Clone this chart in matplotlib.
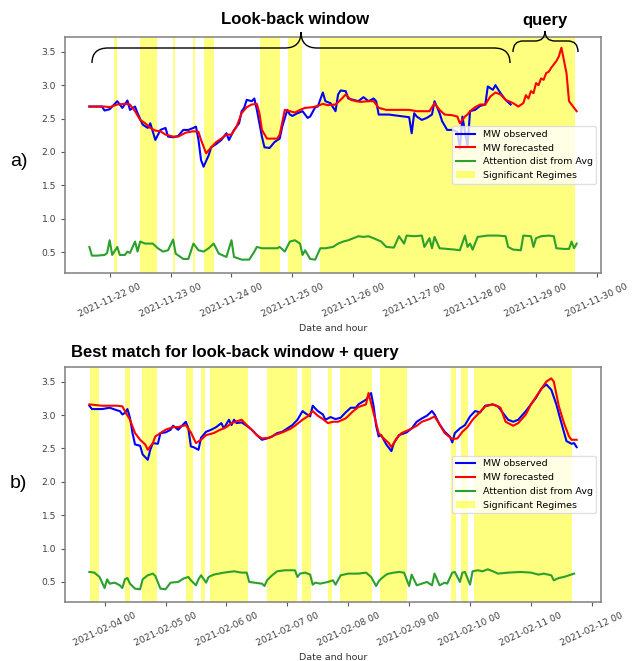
import numpy as np
import pandas as pd
import matplotlib
matplotlib.use("Agg")
import matplotlib.pyplot as plt
import matplotlib.dates as md
from matplotlib.path import Path
from matplotlib.patches import PathPatch

# ---- panel a) : look-back window + query (hours from series start) ----
start_a = pd.Timestamp('2021-11-21 16:00')

obs_a_h = [0, 5, 6, 8, 11, 13, 15, 16, 18, 19, 21, 23, 24, 26, 28, 30, 31, 33, 35, 37, 39, 41, 42, 43,
           44, 45, 47, 48, 50, 52, 54, 55, 57, 59, 60, 61, 62, 64, 65, 66, 68, 69, 71, 73, 75, 76, 78,
           79, 80, 82, 84, 86, 87, 89, 90, 92, 93, 95, 97, 98, 99, 101, 102, 104, 106, 108, 110, 112,
           113, 114, 118, 126, 127, 128, 129, 131, 133, 135, 136, 138, 139, 141, 143, 145, 146, 147,
           149, 150, 152, 154, 156, 157, 159, 160, 162, 164, 166]
obs_a_v = [2.68, 2.68, 2.62, 2.64, 2.76, 2.66, 2.77, 2.63, 2.68, 2.58, 2.41, 2.36, 2.43, 2.18, 2.33,
           2.36, 2.23, 2.22, 2.24, 2.33, 2.33, 2.36, 2.38, 2.18, 1.88, 1.78, 1.95, 2.07, 2.12, 2.18,
           2.28, 2.18, 2.33, 2.43, 2.61, 2.66, 2.78, 2.76, 2.80, 2.63, 2.23, 2.07, 2.06, 2.15, 2.20,
           2.38, 2.63, 2.56, 2.54, 2.58, 2.61, 2.51, 2.53, 2.67, 2.68, 2.89, 2.76, 2.73, 2.61, 2.86,
           2.92, 2.91, 2.80, 2.78, 2.76, 2.82, 2.76, 2.80, 2.76, 2.56, 2.56, 2.52, 2.28, 2.58, 2.53,
           2.48, 2.51, 2.56, 2.76, 2.58, 2.46, 2.33, 2.33, 2.30, 2.05, 2.53, 2.08, 2.61, 2.63, 2.69,
           2.71, 2.98, 2.93, 3.00, 2.88, 2.78, 2.71]

fc_a_h = [0, 6, 8, 11, 14, 16, 18, 20, 22, 24, 26, 28, 30, 33, 35, 38, 41, 43, 44, 46, 48, 50, 52,
          54, 56, 58, 60, 62, 64, 66, 67, 68, 70, 72, 74, 75, 77, 79, 81, 83, 85, 88, 90, 92, 94, 97,
          99, 101, 103, 105, 107, 110, 112, 114, 117, 126, 129, 134, 136, 138, 140, 143, 145, 146,
          148, 149, 150, 152, 154, 156, 158, 160, 162, 164, 167, 169, 171, 172, 173, 174, 175, 176,
          177, 178, 179, 180, 181, 182, 183, 184, 185, 186, 188, 189, 190, 192]
fc_a_v = [2.68, 2.68, 2.67, 2.71, 2.72, 2.71, 2.61, 2.48, 2.43, 2.36, 2.32, 2.31, 2.26, 2.23, 2.23,
          2.29, 2.31, 2.30, 2.18, 1.98, 2.07, 2.15, 2.20, 2.26, 2.26, 2.38, 2.58, 2.67, 2.71, 2.72,
          2.58, 2.33, 2.20, 2.20, 2.20, 2.26, 2.63, 2.61, 2.59, 2.63, 2.66, 2.67, 2.69, 2.72, 2.70,
          2.71, 2.78, 2.86, 2.78, 2.76, 2.75, 2.76, 2.76, 2.66, 2.63, 2.63, 2.61, 2.61, 2.73, 2.63,
          2.56, 2.55, 2.53, 2.43, 2.53, 2.56, 2.61, 2.67, 2.71, 2.71, 2.83, 2.89, 2.86, 2.78, 2.73,
          2.68, 2.73, 2.85, 2.80, 2.91, 2.88, 3.03, 3.00, 3.10, 3.08, 3.18, 3.20, 3.26, 3.31, 3.36,
          3.43, 3.56, 3.18, 2.76, 2.71, 2.61]

att_a_h = [0, 1, 3, 6, 7, 8, 9, 11, 12, 14, 15, 16, 18, 19, 20, 22, 25, 27, 29, 31, 33, 34, 37, 39,
           41, 43, 45, 47, 49, 51, 54, 56, 57, 60, 63, 65, 66, 68, 71, 74, 75, 77, 79, 81, 83, 84, 85,
           87, 89, 91, 93, 96, 98, 100, 102, 104, 106, 108, 110, 112, 115, 117, 120, 122, 124, 125,
           128, 131, 132, 134, 135, 136, 138, 141, 144, 146, 148, 149, 150, 151, 153, 157, 161, 164,
           165, 167, 170, 171, 174, 175, 176, 178, 181, 183, 184, 187, 189, 190, 191, 192]
att_a_v = [0.58, 0.45, 0.45, 0.46, 0.49, 0.68, 0.46, 0.58, 0.46, 0.46, 0.51, 0.49, 0.66, 0.51, 0.66,
           0.63, 0.63, 0.56, 0.51, 0.53, 0.69, 0.48, 0.40, 0.40, 0.63, 0.53, 0.51, 0.56, 0.63, 0.48,
           0.43, 0.68, 0.43, 0.39, 0.39, 0.51, 0.58, 0.56, 0.56, 0.56, 0.58, 0.51, 0.66, 0.68, 0.63,
           0.46, 0.53, 0.40, 0.39, 0.56, 0.56, 0.58, 0.63, 0.66, 0.68, 0.71, 0.74, 0.73, 0.74, 0.71,
           0.66, 0.58, 0.57, 0.74, 0.63, 0.75, 0.74, 0.75, 0.58, 0.71, 0.56, 0.73, 0.56, 0.55, 0.54,
           0.53, 0.75, 0.58, 0.63, 0.54, 0.73, 0.75, 0.75, 0.74, 0.58, 0.54, 0.53, 0.75, 0.74, 0.58,
           0.71, 0.74, 0.75, 0.74, 0.56, 0.55, 0.55, 0.66, 0.56, 0.63]

regimes_a = [(9.6, 10.9), (20.1, 26.6), (32.9, 33.9), (40.7, 41.8), (45.0, 49.0),
             (67.3, 75.1), (78.3, 83.8), (91.0, 191.5)]

# ---- panel b) : best match ----
start_b = pd.Timestamp('2021-02-03 18:00')

obs_b_h = [0, 1, 5, 8, 11, 12, 13, 14, 15, 16, 17, 18, 20, 21, 23, 24, 25, 27, 28, 30, 32, 33, 35,
           36, 38, 39, 40, 41, 43, 44, 46, 48, 50, 52, 53, 55, 56, 57, 58, 60, 62, 64, 66, 68, 70,
           72, 74, 76, 78, 80, 82, 84, 85, 87, 88, 90, 92, 93, 95, 97, 99, 101, 103, 105, 106, 109,
           111, 112, 113, 114, 115, 117, 119, 120, 122, 125, 127, 129, 131, 133, 135, 136, 138, 140,
           142, 143, 144, 146, 148, 150, 152, 154, 156, 159, 161, 163, 165, 167, 169, 172, 174, 176,
           178, 180, 182, 184, 186, 188, 190, 191, 192]
obs_b_v = [3.14, 3.09, 3.09, 3.11, 3.07, 3.06, 3.01, 3.03, 3.09, 2.96, 2.73, 2.56, 2.54, 2.41, 2.33,
           2.48, 2.58, 2.57, 2.73, 2.74, 2.78, 2.84, 2.78, 2.82, 2.90, 2.80, 2.53, 2.52, 2.48, 2.66,
           2.75, 2.78, 2.82, 2.88, 2.80, 2.93, 2.85, 2.93, 2.88, 2.89, 2.84, 2.78, 2.70, 2.63, 2.65,
           2.68, 2.73, 2.75, 2.80, 2.85, 2.93, 3.06, 3.03, 2.98, 3.14, 3.06, 3.01, 2.93, 2.97, 2.94,
           2.96, 3.04, 3.11, 3.11, 3.16, 3.23, 3.33, 3.13, 2.84, 2.68, 2.70, 2.56, 2.46, 2.58, 2.70,
           2.74, 2.80, 2.90, 2.95, 2.99, 3.06, 3.01, 2.86, 2.75, 2.68, 2.59, 2.73, 2.80, 2.85, 2.98,
           3.06, 3.04, 3.14, 3.16, 3.13, 3.03, 2.93, 2.90, 2.93, 3.06, 3.16, 3.26, 3.39, 3.46, 3.38,
           3.16, 2.88, 2.61, 2.57, 2.58, 2.52]

fc_b_h = [0, 5, 11, 13, 14, 16, 18, 20, 22, 23, 25, 26, 28, 30, 33, 35, 38, 40, 42, 44, 46, 49, 51,
          54, 56, 60, 62, 64, 66, 68, 71, 73, 76, 79, 81, 84, 86, 88, 90, 92, 94, 96, 98, 101, 104,
          106, 109, 110, 112, 114, 116, 118, 119, 121, 123, 126, 129, 131, 134, 136, 138, 140, 143,
          145, 147, 149, 151, 153, 156, 159, 162, 164, 167, 169, 172, 174, 177, 180, 182, 183, 185,
          187, 189, 190, 192]
fc_b_v = [3.16, 3.14, 3.14, 3.13, 3.06, 2.93, 2.73, 2.63, 2.56, 2.48, 2.58, 2.68, 2.73, 2.78, 2.82,
          2.82, 2.85, 2.74, 2.58, 2.63, 2.70, 2.73, 2.77, 2.82, 2.88, 2.93, 2.85, 2.78, 2.70, 2.65,
          2.66, 2.70, 2.74, 2.79, 2.84, 2.93, 2.98, 3.06, 2.99, 2.94, 2.88, 2.90, 2.90, 2.95, 3.06,
          3.12, 3.16, 3.33, 3.03, 2.73, 2.65, 2.58, 2.52, 2.65, 2.73, 2.78, 2.84, 2.90, 2.94, 2.98,
          2.86, 2.73, 2.64, 2.65, 2.75, 2.82, 2.93, 3.01, 3.13, 3.16, 3.11, 2.90, 2.84, 2.88, 3.01,
          3.16, 3.33, 3.50, 3.55, 3.50, 3.13, 2.88, 2.68, 2.63, 2.63]

att_b_h = [0, 2, 4, 6, 7, 8, 10, 12, 13, 14, 15, 16, 18, 20, 21, 23, 25, 26, 28, 30, 32, 35, 37, 39,
           40, 42, 43, 44, 46, 47, 49, 53, 57, 60, 62, 63, 65, 68, 69, 70, 72, 74, 77, 81, 82, 83, 85,
           87, 88, 89, 91, 94, 96, 97, 99, 102, 106, 109, 111, 113, 114, 115, 117, 118, 120, 122, 124,
           126, 127, 129, 131, 133, 135, 136, 138, 140, 141, 143, 144, 146, 147, 148, 150, 151, 153,
           155, 157, 159, 161, 165, 170, 174, 177, 179, 182, 183, 185, 187, 189, 191]
att_b_v = [0.65, 0.64, 0.575, 0.41, 0.54, 0.475, 0.49, 0.45, 0.41, 0.54, 0.56, 0.475, 0.40, 0.39,
           0.54, 0.60, 0.625, 0.59, 0.40, 0.39, 0.49, 0.50, 0.55, 0.575, 0.525, 0.45, 0.54, 0.60, 0.49,
           0.575, 0.61, 0.64, 0.66, 0.64, 0.64, 0.50, 0.49, 0.475, 0.44, 0.525, 0.60, 0.66, 0.675,
           0.675, 0.575, 0.625, 0.64, 0.61, 0.46, 0.49, 0.475, 0.50, 0.525, 0.46, 0.60, 0.625, 0.625,
           0.64, 0.575, 0.44, 0.51, 0.55, 0.61, 0.625, 0.64, 0.65, 0.64, 0.44, 0.61, 0.45, 0.475, 0.50,
           0.45, 0.625, 0.45, 0.49, 0.475, 0.64, 0.65, 0.50, 0.64, 0.65, 0.46, 0.66, 0.675, 0.66, 0.69,
           0.66, 0.625, 0.64, 0.65, 0.64, 0.61, 0.625, 0.60, 0.525, 0.56, 0.575, 0.60, 0.625]

regimes_b = [(0.1, 3.7), (13.9, 15.9), (20.8, 26.7), (37.9, 40.7), (43.8, 45.6), (47.7, 62.7),
             (70.0, 81.7), (83.6, 87.4), (93.9, 95.8), (98.8, 111.3), (114.6, 125.3),
             (142.4, 144.4), (146.6, 149.3), (151.6, 190.2)]

W, H = 632, 661


def to_dates(start, hours):
    return start + pd.to_timedelta(hours, unit='h')


def draw_panel(ax, start, obs_h, obs_v, fc_h, fc_v, att_h, att_v, regimes, ylim):
    ax.plot(to_dates(start, obs_h), obs_v, color='blue', lw=1.5, label='MW observed')
    ax.plot(to_dates(start, fc_h), fc_v, color='red', lw=1.5, label='MW forecasted')
    ax.plot(to_dates(start, att_h), att_v, color='#2ca02c', lw=1.5, label='Attention dist from Avg')
    for i, (a, b) in enumerate(regimes):
        ax.axvspan(start + pd.Timedelta(hours=a), start + pd.Timedelta(hours=b),
                   color='yellow', alpha=0.5, lw=0,
                   label='Significant Regimes' if i == 0 else None)
    ax.set_ylim(*ylim)
    ax.xaxis.set_major_locator(md.DayLocator())
    ax.xaxis.set_major_formatter(md.DateFormatter('%Y-%m-%d %H'))
    ax.tick_params(labelsize=6.6, labelcolor='0.25', color='0.35', length=3)
    for label in ax.xaxis.get_ticklabels():
        label.set_rotation(25)
        label.set_ha('center')
    for s in ax.spines.values():
        s.set_color('0.5')
        s.set_linewidth(1.1)
    ax.set_xlabel('Date and hour', fontsize=6.8, color='0.2')
    ax.legend(loc='center right', fontsize=6.8, framealpha=0.8, edgecolor='0.85')


def brace(fig, x0, x1, xm, y_line, y_end, y_tip, r):
    pts = [(x0, y_end), (x0, y_line), (x0 + r, y_line),
           (xm - r, y_line), (xm, y_line), (xm, y_tip),
           (xm, y_line), (xm + r, y_line),
           (x1 - r, y_line), (x1, y_line), (x1, y_end)]
    codes = [Path.MOVETO, Path.CURVE3, Path.CURVE3,
             Path.LINETO, Path.CURVE3, Path.CURVE3,
             Path.CURVE3, Path.CURVE3,
             Path.LINETO, Path.CURVE3, Path.CURVE3]
    verts = [(x / W, 1 - y / H) for x, y in pts]
    fig.add_artist(PathPatch(Path(verts, codes), transform=fig.transFigure,
                             fill=False, ec='black', lw=1.0))


fig = plt.figure(figsize=(W / 100, H / 100), dpi=100)
ax1 = fig.add_axes([65 / W, 1 - 273 / H, 536 / W, 236 / H])
ax2 = fig.add_axes([65 / W, 1 - 602 / H, 536 / W, 235 / H])

draw_panel(ax1, start_a, obs_a_h, obs_a_v, fc_a_h, fc_a_v, att_a_h, att_a_v, regimes_a, (0.19, 3.72))
draw_panel(ax2, start_b, obs_b_h, obs_b_v, fc_b_h, fc_b_v, att_b_h, att_b_v, regimes_b, (0.20, 3.72))

title_font = dict(family='Liberation Sans', fontweight='bold', fontsize=12)
fig.text(295 / W, 1 - 20 / H, 'Look-back window', ha='center', va='center', **title_font)
fig.text(545 / W, 1 - 20 / H, 'query', ha='center', va='center', **title_font)
fig.text(71 / W, 1 - 352 / H, 'Best match for look-back window + query', ha='left', va='center',
         **title_font)
fig.text(10 / W, 1 - 162 / H, 'a)', ha='left', va='center', family='Liberation Sans', fontsize=14)
fig.text(10 / W, 1 - 483 / H, 'b)', ha='left', va='center', family='Liberation Sans', fontsize=14)

brace(fig, 92, 510, 301, 48, 63, 32, 16)
brace(fig, 513, 578, 545, 41, 52, 31, 10)

fig.savefig('out.png', dpi=100)
